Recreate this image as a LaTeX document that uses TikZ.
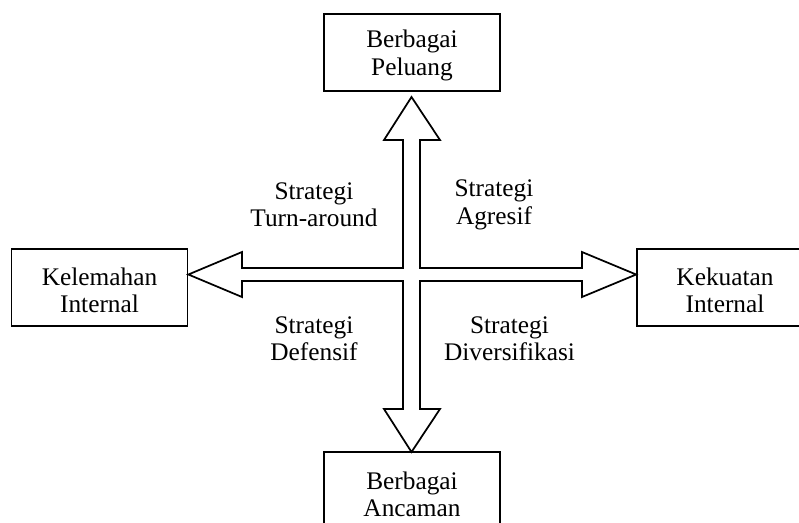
\documentclass[tikz,border=0pt]{standalone}
\usepackage{fontspec}
\setmainfont{Liberation Serif}
\begin{document}
\begin{tikzpicture}[x=0.75pt,y=-0.75pt,
  every node/.style={font=\fontsize{19}{20.5}\selectfont, align=center, inner sep=0pt},
  box/.style={draw, line width=1.3pt, minimum width=132pt, minimum height=57.75pt},
  lbl/.style={},
  frame/.style={line width=1.3pt, line join=miter}]
\useasboundingbox (0,0) rectangle (799,522);
\begin{scope}
\clip (0,0) rectangle (799,522);
% boxes
\node[box] (peluang)   at (412,52.5)   {};
\node[box] (kelemahan) at (99.5,287.5) {};
\node[box] (kekuatan)  at (725,287.5)  {};
\node[box] (ancaman)   at (412,490.5)  {};
\end{scope}
% box texts
\node (tPeluang)   at (412,55.5)  {Berbagai\\Peluang};
\node (tKelemahan) at (99.5,290.5) {Kelemahan\\Internal};
\node (tKekuatan)  at (725,290.5) {Kekuatan\\Internal};
\node (tAncaman)   at (412,494.5) {Berbagai\\Ancaman};
% strategy labels
\node[lbl] (turn) at (314,205) {Strategi\\Turn-around};
\node[lbl] (agr)  at (494,205) {Strategi\\Agresif};
\node[lbl] (def)  at (314,338.5) {Strategi\\Defensif};
\node[lbl] (div)  at (509.5,338.5) {Strategi\\Diversifikasi};
% arrow tips
\coordinate (tipN) at (411.5,97);
\coordinate (tipS) at (ancaman.north);
\coordinate (tipW) at (kelemahan.east);
\coordinate (tipE) at (kekuatan.west);
% hollow cross of four arrows
\draw[frame] (tipN) -- (440,140) -- (420,140) -- (420,268) -- (582,268) -- (582,252)
  -- (tipE |- 0,274.5) -- (582,297) -- (582,281) -- (420,281) -- (420,409) -- (440,409)
  -- (411.5,452) -- (384,409) -- (403,409) -- (403,281) -- (242,281) -- (242,297)
  -- (tipW |- 0,274.5) -- (242,252) -- (242,268) -- (403,268) -- (403,140) -- (384,140) -- cycle;
\end{tikzpicture}
\end{document}
